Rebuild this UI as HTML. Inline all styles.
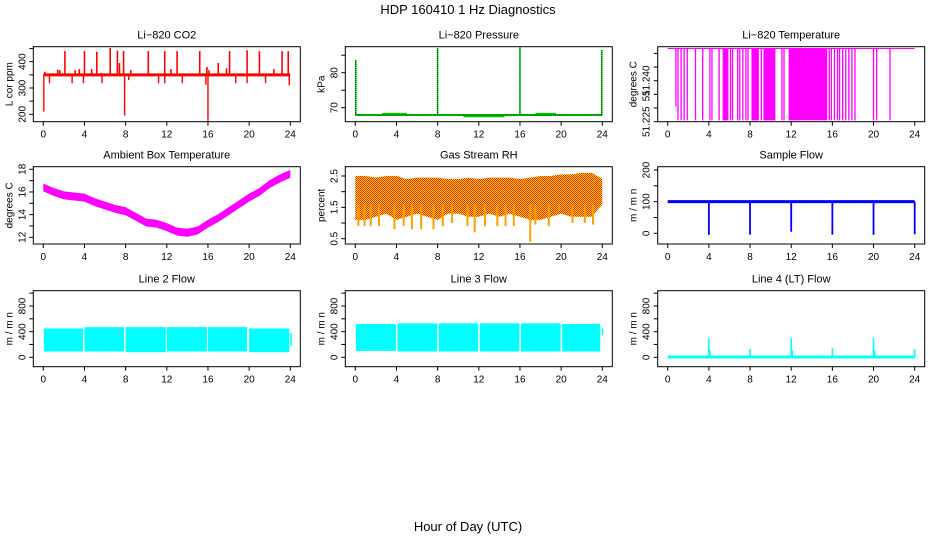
<!DOCTYPE html>
<html><head><meta charset="utf-8"><style>
html,body{margin:0;padding:0;background:#fff}
svg{display:block;font-family:"Liberation Sans",sans-serif}
</style></head><body>
<svg id="chart" width="936" height="540" viewBox="0 0 936 540" xmlns="http://www.w3.org/2000/svg">
<defs>
<pattern id="rhpat" width="2" height="2" patternUnits="userSpaceOnUse">
<rect width="2" height="2" fill="#ffd800"/><rect width="1" height="1" fill="#ff2000"/><rect x="1" y="1" width="1" height="1" fill="#ff2000"/>
</pattern>
</defs>
<text x="468" y="14" text-anchor="middle" font-size="13">HDP  160410  1 Hz Diagnostics</text>
<text x="468" y="531" text-anchor="middle" font-size="13">Hour of Day (UTC)</text>
</svg>
<script>
// ---- data ----
const xTicks = [0,4,8,12,16,20,24];
const co2Base = [350];
const co2UpHours = [0.15,1.4,1.6,2.1,3.1,3.5,4.0,4.7,5.2,5.6,6.5,7.2,7.4,7.8,8.5,10.2,11.8,12.4,13.0,15.2,15.9,16.1,17.0,17.8,18.1,19.8,21.0,22.4,23.2,23.8];
const co2UpValues = [362,370,368,440,368,372,440,372,438,358,452,442,395,440,368,440,440,372,440,440,380,368,395,375,440,443,440,372,440,440];
const co2DownHours = [0.05,0.6,2.8,3.9,5.7,7.9,8.3,11.2,11.8,13.5,15.8,16.0,18.7,19.8,21.6,23.9];
const co2DownValues = [210,318,318,318,318,195,330,318,318,318,312,175,318,318,318,310];
const pressBase = [67.9];
const pressSpikeHours = [0.05,8.0,16.0,23.95];
const pressSpikeValues = [83.6,87.0,87.6,86.5];
const pressBumpStart = [2.6,17.5,10.5];
const pressBumpEnd = [5.0,19.5,14.5];
const pressBumpValues = [68.3,68.3,67.5];
const tempTop = [51.2518];
const tempDropHours = [0.8,1.0,1.3,1.6,1.9,2.7,3.4,4.1,4.3,5.0,5.4,5.6,5.8,6.1,6.3,6.8,7.0,7.3,7.6,7.8,8.2,8.4,8.6,8.8,9.1,9.4,9.6,9.9,10.2,10.4,11.1,11.3,15.7,15.9,16.2,16.5,16.7,17.0,17.3,17.6,17.9,18.2,20.0,20.3,21.6];
const tempDropValues = [51.2305,51.2255,51.2255,51.2255,51.2255,51.2255,51.2255,51.2255,51.2255,51.2255,51.2255,51.2255,51.2255,51.2255,51.2255,51.2255,51.2255,51.2255,51.2255,51.2255,51.2255,51.2255,51.2255,51.2255,51.2255,51.2255,51.2255,51.2255,51.2255,51.2255,51.2255,51.2255,51.2255,51.2255,51.2255,51.2255,51.2255,51.2255,51.2255,51.2255,51.2255,51.2255,51.2255,51.2255,51.2255];
const tempBlockStart = [5.4,8.2,9.3,11.75];
const tempBlockEnd = [5.9,8.8,10.4,15.5];
const ambHours = [0,1,2,3,4,5,6,7,8,9,10,11,12,13,14,15,16,17,18,19,20,21,22,23,24];
const ambValues = [16.4,16.0,15.7,15.6,15.5,15.1,14.8,14.5,14.3,13.8,13.3,13.2,12.9,12.5,12.4,12.6,13.2,13.7,14.3,14.9,15.5,16.0,16.7,17.2,17.6];
const rhHours = [0,1,2,3,4,5,6,7,8,9,10,11,12,13,14,15,16,17,18,19,20,21,22,23,24];
const rhTop = [2.5,2.5,2.45,2.5,2.5,2.4,2.45,2.45,2.45,2.4,2.4,2.45,2.4,2.45,2.45,2.45,2.4,2.45,2.5,2.5,2.55,2.55,2.6,2.6,2.4];
const rhBottom = [1.1,1.1,1.2,1.3,1.1,1.2,1.3,1.2,1.1,1.3,1.3,1.2,1.2,1.3,1.2,1.3,1.2,1.1,1.1,1.2,1.3,1.2,1.2,1.2,1.6];
const rhSpikeHours = [0.3,0.9,1.5,2.3,3.8,4.7,5.5,6.4,7.6,8.5,9.4,10.9,11.6,12.6,13.8,14.6,15.4,17.0,17.5,18.8,19.8,21.1,22.3,23.1];
const rhSpikeValues = [0.9,0.9,0.9,0.9,0.8,0.9,0.8,0.8,0.8,0.9,1.0,0.9,0.7,0.9,0.9,0.9,0.9,0.4,0.95,0.9,1.4,1.0,1.0,0.95];
const sampleBase = [100];
const sampleDropHours = [4,8,12,16,20,24];
const sampleDropValues = [-5,-4,5,-4,-5,-3];
const l2Start = [0.05,4.0,8.0,12.0,16.0,20.0,24.0];
const l2End = [3.85,7.85,11.9,15.9,19.8,23.9,24.15];
const l2Top = [450,470,470,470,470,450,380];
const l2Bottom = [90,90,80,90,90,80,180];
const l3Start = [0.05,4.1,8.1,12.1,16.1,20.1,23.95];
const l3End = [3.95,7.95,11.95,15.95,19.95,23.8,24.1];
const l3Top = [520,530,530,530,530,520,450];
const l3Bottom = [100,90,90,90,90,90,350];
const l4Base = [5];
const l4SpikeHours = [4,4.1,8,12,12.1,16,20,20.1,24];
const l4SpikeValues = [300,110,130,300,110,140,300,110,130];

// ---- drawing ----
const svg = document.getElementById('chart');
const NS = 'http://www.w3.org/2000/svg';
function mk(tag, attrs, parent){const e=document.createElementNS(NS,tag);for(const k in attrs)e.setAttribute(k,attrs[k]);(parent||svg).appendChild(e);return e;}
const colX0 = [43.3,355.3,667.7];
const rowY = [[46.7,121.7],[166.7,244],[290.7,366.7]];
const XW = 247;

function panel(name,col,row,title,ytitle,v1,p1,v2,p2,ticks,labels){
  const x0 = colX0[col], top=rowY[row][0], bot=rowY[row][1];
  const L = x0-10, R = x0+257;
  const g = mk('g',{});
  
  
  const xs = h => x0 + h*XW/24;
  const ys = v => p1 + (v-v1)*(p2-p1)/(v2-v1);
  const t = mk('text',{x:(L+R)/2,y:top-8,'text-anchor':'middle','font-size':'11'},g);
  
  
  t.textContent = title;
  const yt = mk('text',{x:L-21,y:(top+bot)/2,'text-anchor':'middle','font-size':'10',transform:`rotate(-90 ${L-21} ${(top+bot)/2})`},g);
  
  
  yt.textContent = ytitle;
  for(const h of xTicks){
    const tk = mk('line',{x1:xs(h),x2:xs(h),y1:bot,y2:bot+4,stroke:'#000','stroke-width':1},g);
    
    
    const tl = mk('text',{x:xs(h),y:bot+16,'text-anchor':'middle','font-size':'10'},g);
    
    
    tl.textContent = h;
  }
  ticks.forEach(v=>{
    const tk = mk('line',{x1:L-4,x2:L,y1:ys(v),y2:ys(v),stroke:'#000','stroke-width':1},g);
    
    
  });
  labels.forEach(([v,s])=>{
    const tl = mk('text',{x:L-8,y:ys(v),'text-anchor':'middle','font-size':'10',transform:`rotate(-90 ${L-8} ${ys(v)})`},g);
    
    
    tl.textContent = s;
  });
  const clip = mk('clipPath',{id:'clip-'+name},g);
  mk('rect',{x:L,y:top,width:R-L,height:bot-top},clip);
  const plot = mk('g',{'clip-path':`url(#clip-${name})`},g);
  const box = mk('rect',{x:L,y:top,width:R-L,height:bot-top,fill:'none',stroke:'#000','stroke-width':1},g);
  
  
  return {xs,ys,plot};
}
function vline(p,x,y1,y2,color,w,nm){
  const e = mk('line',{x1:x,x2:x,y1:y1,y2:y2,stroke:color,'stroke-width':w},p);
  
  
  return e;
}
function hline(p,x1,x2,y,color,w,nm){
  const e = mk('line',{x1:x1,x2:x2,y1:y,y2:y,stroke:color,'stroke-width':w},p);
  
  
  return e;
}
function rect(p,x1,x2,y1,y2,fill,nm){
  const e = mk('rect',{x:Math.min(x1,x2),y:Math.min(y1,y2),width:Math.abs(x2-x1),height:Math.abs(y2-y1),fill:fill},p);
  
  
  return e;
}

// CO2
{
  const P = panel('co2',0,0,'Li\u2212820 CO2','L cor ppm',400,61.7,200,114.3,[200,250,300,350,400,450],[[200,'200'],[300,'300'],[400,'400']]);
  co2UpHours.forEach((h,i)=>vline(P.plot,P.xs(h),P.ys(co2Base[0]),P.ys(co2UpValues[i]),'#ff0000',1.6,'co2-spike'));
  co2DownHours.forEach((h,i)=>vline(P.plot,P.xs(h),P.ys(co2Base[0]),P.ys(co2DownValues[i]),'#ff0000',1.4,'co2-dip'));
  hline(P.plot,P.xs(0),P.xs(24),P.ys(co2Base[0]),'#ff0000',3,'co2-line');
}
// Pressure
{
  const P = panel('pressure',1,0,'Li\u2212820 Pressure','kPa',80,72.7,70,107.7,[70,75,80,85],[[70,'70'],[80,'80']]);
  hline(P.plot,P.xs(0),P.xs(24),P.ys(pressBase[0]),'#00dd00',2,'pressure-line');
  pressBumpStart.forEach((s,i)=>hline(P.plot,P.xs(s),P.xs(pressBumpEnd[i]),P.ys(pressBumpValues[i]),'#00cc00',1.5,'pressure-bump'));
  hline(P.plot,P.xs(0),P.xs(24),P.ys(pressBase[0]),'#000',1,'pressure-line-dotted').setAttribute('stroke-dasharray','1 1');
  pressSpikeHours.forEach((h,i)=>{
    vline(P.plot,P.xs(h),P.ys(pressBase[0]),P.ys(pressSpikeValues[i]),'#00dd00',1.6,'pressure-spike');
    vline(P.plot,P.xs(h),P.ys(pressBase[0]),P.ys(pressSpikeValues[i]),'#000',0.8,'pressure-spike-dotted').setAttribute('stroke-dasharray','1 1');
  });
}
// Li-820 Temperature
{
  const P = panel('li820-temp',2,0,'Li\u2212820 Temperature','degrees C',51.225,121.7,51.250,53.4,[51.225,51.230,51.235,51.240,51.245,51.250],[[51.225,'51.225'],[51.235,'51.'],[51.240,'51.240']]);
  hline(P.plot,P.xs(0),P.xs(24),P.ys(tempTop[0]),'#ff00ff',1,'li820-temp-line');
  tempBlockStart.forEach((s,i)=>rect(P.plot,P.xs(s),P.xs(tempBlockEnd[i]),P.ys(tempTop[0]),P.ys(51.2255),'#ff00ff','li820-temp-block'));
  tempDropHours.forEach((h,i)=>vline(P.plot,P.xs(h),P.ys(tempTop[0]),P.ys(tempDropValues[i]),'#ff00ff',1.3,'li820-temp-drop'));
}
// Ambient
{
  const P = panel('ambient',0,1,'Ambient Box Temperature','degrees C',18,169.3,12,237.3,[12,13,14,15,16,17,18],[[12,'12'],[14,'14'],[16,'16'],[18,'18']]);
  const up = ambHours.map((h,i)=>`${P.xs(h)},${P.ys(ambValues[i]+0.35)}`);
  const dn = ambHours.map((h,i)=>`${P.xs(h)},${P.ys(ambValues[i]-0.35)}`).reverse();
  const e = mk('polygon',{points:up.concat(dn).join(' '),fill:'#ff00ff'},P.plot);
  
  
}
// RH
{
  const P = panel('rh',1,1,'Gas Stream RH','percent',2.5,176,0.5,238.7,[0.5,1,1.5,2,2.5],[[0.5,'0.5'],[1.5,'1.5'],[2.5,'2.5']]);
  const up = rhHours.map((h,i)=>`${P.xs(h)},${P.ys(rhTop[i])}`);
  const dn = rhHours.map((h,i)=>`${P.xs(h)},${P.ys(rhBottom[i])}`).reverse();
  const e = mk('polygon',{points:up.concat(dn).join(' '),fill:'url(#rhpat)'},P.plot);
  
  
  rhSpikeHours.forEach((h,i)=>vline(P.plot,P.xs(h),P.ys(1.6),P.ys(rhSpikeValues[i]),'#ffa000',2,'rh-dip'));
}
// Sample flow
{
  const P = panel('sample-flow',2,1,'Sample Flow','m / m n',200,170,0,233.3,[0,50,100,150,200],[[0,'0'],[100,'100'],[200,'200']]);
  hline(P.plot,P.xs(0),P.xs(24),P.ys(sampleBase[0]),'#0000ff',3,'sample-flow-line');
  sampleDropHours.forEach((h,i)=>vline(P.plot,P.xs(h),P.ys(sampleBase[0]),P.ys(sampleDropValues[i]),'#0000ff',1.8,'sample-flow-drop'));
}
// Line 2
{
  const P = panel('line2',0,2,'Line 2 Flow','m / m n',0,357.3,800,306,[0,200,400,600,800,1000],[[0,'0'],[400,'400'],[800,'800']]);
  l2Start.forEach((s,i)=>rect(P.plot,P.xs(s),P.xs(l2End[i]),P.ys(l2Top[i]),P.ys(l2Bottom[i]),'#00ffff','line2-segment'));
}
// Line 3
{
  const P = panel('line3',1,2,'Line 3 Flow','m / m n',0,357.3,800,306,[0,200,400,600,800,1000],[[0,'0'],[400,'400'],[800,'800']]);
  l3Start.forEach((s,i)=>rect(P.plot,P.xs(s),P.xs(l3End[i]),P.ys(l3Top[i]),P.ys(l3Bottom[i]),'#00ffff','line3-segment'));
}
// Line 4
{
  const P = panel('line4',2,2,'Line 4 (LT) Flow','m / m n',0,357.3,800,306,[0,200,400,600,800,1000],[[0,'0'],[400,'400'],[800,'800']]);
  hline(P.plot,P.xs(0),P.xs(24),P.ys(l4Base[0]),'#00ffff',3,'line4-line');
  l4SpikeHours.forEach((h,i)=>vline(P.plot,P.xs(h),P.ys(l4Base[0]),P.ys(l4SpikeValues[i]),'#00ffff',1.6,'line4-spike'));
}
</script>
</body></html>
